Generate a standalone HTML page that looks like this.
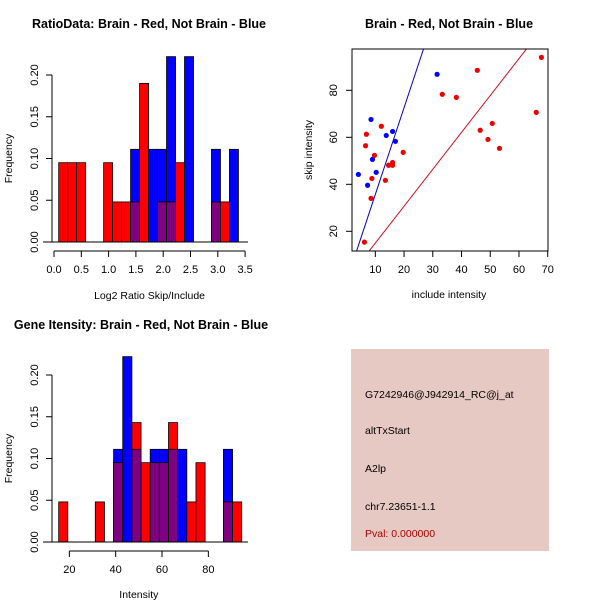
<!DOCTYPE html>
<html><head><meta charset="utf-8"><style>
html,body{margin:0;padding:0;background:#fff;}
svg{display:block;font-family:"Liberation Sans",Arial,sans-serif;}
</style></head><body>
<svg id="chart" width="600" height="600" viewBox="0 0 600 600"></svg>
<script>
// ---- Data: top-left histogram (Log2 ratio) ----
const ratioBinStart = 0.086;
const ratioBinWidth = 0.1646;
const ratioRed  = [0.095,0.095,0.095,0,0,0.095,0.048,0.048,0.048,0.19,0,0.048,0.048,0.095,0,0,0,0.048,0.048,0];
const ratioBlue = [0,0,0,0,0,0,0,0,0.111,0,0.111,0.111,0.222,0,0.222,0,0,0.111,0,0.111];
const ratioXTicks = [0.0,0.5,1.0,1.5,2.0,2.5,3.0,3.5];
const freqTicks = [0.00,0.05,0.10,0.15,0.20];
// ---- Data: bottom-left histogram (Intensity) ----
const intBinStart = 15.4;
const intBinWidth = 3.95;
const intRed  = [0.048,0,0,0,0.048,0,0.095,0,0.143,0.095,0.095,0.095,0.143,0,0.048,0.095,0,0,0.048,0.048];
const intBlue = [0,0,0,0,0,0,0.111,0.222,0.111,0,0.111,0.111,0.111,0.111,0,0,0,0,0.111,0];
const intXTicks = [20,40,60,80];
// ---- Data: scatter ----
const blueX = [4.1,7.3,8.5,9.0,10.3,13.8,16.0,17.0,31.5];
const blueY = [44.2,39.6,67.6,50.6,45.1,60.8,62.5,58.3,86.8];
const redX = [6.2,8.5,8.8,6.6,6.9,9.7,12.1,13.5,14.6,16.0,16.0,19.7,33.3,38.2,45.5,46.5,50.7,49.2,53.2,66.0,67.8];
const redY = [15.4,34.0,42.5,56.4,61.3,52.3,64.7,41.7,48.1,48.1,49.3,53.6,78.3,77.0,88.5,63.0,65.9,59.1,55.3,70.6,94.0];
const blueLine = [-1.2,3.69]; // intercept, slope
const redLine = [-0.7,1.57];
const scatXTicks = [10,20,30,40,50,60,70];
const scatYTicks = [20,40,60,80];

const svg = document.getElementById('chart');
const NS = 'http://www.w3.org/2000/svg';
function mk(tag, attrs, parent){
  const e = document.createElementNS(NS, tag);
  for (const k in attrs) e.setAttribute(k, attrs[k]);
  (parent||svg).appendChild(e);
  return e;
}
function txt(s, x, y, opts, parent){
  const t = mk('text', Object.assign({x:x, y:y, 'font-size':11, 'text-anchor':'middle', fill:'#000'}, opts||{}), parent);
  t.textContent = s;
  return t;
}

function histogram(name, title, titleX, titleY, xmap, ymap, binStart, binWidth, red, blue, xticks, xAxisY, xlabel, xlabelY, baseL, baseR){
  const g = mk('g', {});
  
  
  const tt = txt(title, titleX, titleY, {'font-size':12.5, 'font-weight':'bold'}, g);
  
  
  for (let i=0;i<red.length;i++){
    const x0 = xmap(binStart + i*binWidth), x1 = xmap(binStart + (i+1)*binWidth);
    const r = red[i], b = blue[i];
    const hi = Math.max(r,b), lo = Math.min(r,b);
    if (hi <= 0) continue;
    const col = r >= b ? '#ff0000' : '#0000ff';
    const bar = mk('rect', {x:x0, y:ymap(hi), width:x1-x0, height:ymap(0)-ymap(hi), fill:col, stroke:'#000', 'stroke-width':0.8}, g);
    
    
    if (lo > 0){
      const ov = mk('rect', {x:x0, y:ymap(lo), width:x1-x0, height:ymap(0)-ymap(lo), fill:'#7f0080', stroke:'#000', 'stroke-width':0.8}, g);
      
      
    }
  }
  mk('line', {x1:baseL, x2:baseR, y1:ymap(0), y2:ymap(0), stroke:'#000', 'stroke-width':1}, g);
  // y axis
  const ya = mk('g', {}, g);
  
  
  mk('line', {x1:52, x2:52, y1:ymap(0), y2:ymap(0.2), stroke:'#000'}, ya);
  freqTicks.forEach(v=>{
    const y = ymap(v);
    mk('line', {x1:46, x2:52, y1:y, y2:y, stroke:'#000'}, ya);
    txt(v.toFixed(2), 0, 0, {transform:'translate(38,'+y+') rotate(-90)'}, ya);
  });
  const yl = txt('Frequency', 0, 0, {transform:'translate(12,'+ymap(0.1)+') rotate(-90)', 'font-size':10.5}, g);
  
  
  // x axis
  const xa = mk('g', {}, g);
  
  
  mk('line', {x1:xmap(xticks[0]), x2:xmap(xticks[xticks.length-1]), y1:xAxisY, y2:xAxisY, stroke:'#000'}, xa);
  xticks.forEach(v=>{
    const x = xmap(v);
    mk('line', {x1:x, x2:x, y1:xAxisY, y2:xAxisY+6, stroke:'#000'}, xa);
    txt(String(Number.isInteger(v) && xticks[1]-xticks[0] < 1 ? v.toFixed(1) : (xticks[1]-xticks[0] < 1 ? v.toFixed(1) : v)), x, xAxisY+22, {}, xa);
  });
  const xl = txt(xlabel, (xmap(xticks[0])+xmap(xticks[xticks.length-1]))/2, xlabelY, {'font-size':10.5}, g);
  
  
}

// Top-left
histogram('ratio-histogram', 'RatioData: Brain - Red, Not Brain - Blue', 149, 28,
  v => 54 + v*54.6, v => 242 - v*835, ratioBinStart, ratioBinWidth, ratioRed, ratioBlue,
  ratioXTicks, 251, 'Log2 Ratio Skip/Include', 299, 43, 248);
// Bottom-left
histogram('intensity-histogram', 'Gene Itensity: Brain - Red, Not Brain - Blue', 141, 329,
  v => 23 + v*2.317, v => 542 - v*835, intBinStart, intBinWidth, intRed, intBlue,
  intXTicks, 551, 'Intensity', 598, 43, 248);

// Scatter
(function(){
  const g = mk('g', {});
  
  
  const xm = v => 346.6 + v*2.873, ym = v => 278.3 - v*2.35;
  const L=352, R=548, T=49, B=251;
  const t = txt('Brain - Red, Not Brain - Blue', 449, 28, {'font-size':12.5, 'font-weight':'bold'}, g);
  
  
  mk('clipPath', {id:'sc'}, g);
  mk('rect', {x:L, y:T, width:R-L, height:B-T}, g.lastChild);
  const lines = mk('g', {'clip-path':'url(#sc)'}, g);
  [[blueLine,'#0000cc','blue-fit-line'],[redLine,'#cc1020','red-fit-line']].forEach(([p,c,n])=>{
    const l = mk('line', {x1:xm(0), y1:ym(p[0]), x2:xm(80), y2:ym(p[0]+p[1]*80), stroke:c, 'stroke-width':1}, lines);
    
    
  });
  blueX.forEach((x,i)=>{
    const c = mk('circle', {cx:xm(x), cy:ym(blueY[i]), r:2.6, fill:'#0000ff'}, g);
    
    
  });
  redX.forEach((x,i)=>{
    const c = mk('circle', {cx:xm(x), cy:ym(redY[i]), r:2.6, fill:'#ee0000'}, g);
    
    
  });
  mk('rect', {x:L, y:T, width:R-L, height:B-T, fill:'none', stroke:'#000'}, g);
  const xa = mk('g', {}, g);
  
  
  scatXTicks.forEach(v=>{
    const x = xm(v);
    mk('line', {x1:x, x2:x, y1:B, y2:B+6, stroke:'#000'}, xa);
    txt(String(v), x, B+22, {}, xa);
  });
  const ya = mk('g', {}, g);
  
  
  scatYTicks.forEach(v=>{
    const y = ym(v);
    mk('line', {x1:L-6, x2:L, y1:y, y2:y, stroke:'#000'}, ya);
    txt(String(v), 0, 0, {transform:'translate(337,'+y+') rotate(-90)'}, ya);
  });
  const xl = txt('include intensity', 449, 298, {'font-size':10.5}, g);
  
  
  const yl = txt('skip intensity', 0, 0, {transform:'translate(312,150) rotate(-90)', 'font-size':10.5}, g);
  
  
})();

// Info panel
(function(){
  const g = mk('g', {});
  
  
  mk('rect', {x:351, y:349, width:198, height:202, fill:'#e6c9c2'}, g);
  const lines = [['G7242946@J942914_RC@j_at',398,'#000','probe-id'],['altTxStart',434,'#000','event-type'],['A2lp',472,'#000','gene-name'],['chr7.23651-1.1',510,'#000','location'],['Pval: 0.000000',537,'#aa0000','p-value']];
  lines.forEach(([s,y,c,n])=>{
    const t = txt(s, 365, y, {'text-anchor':'start', fill:c, 'font-size':10.5}, g);
    
    
  });
})();
</script>
</body></html>
